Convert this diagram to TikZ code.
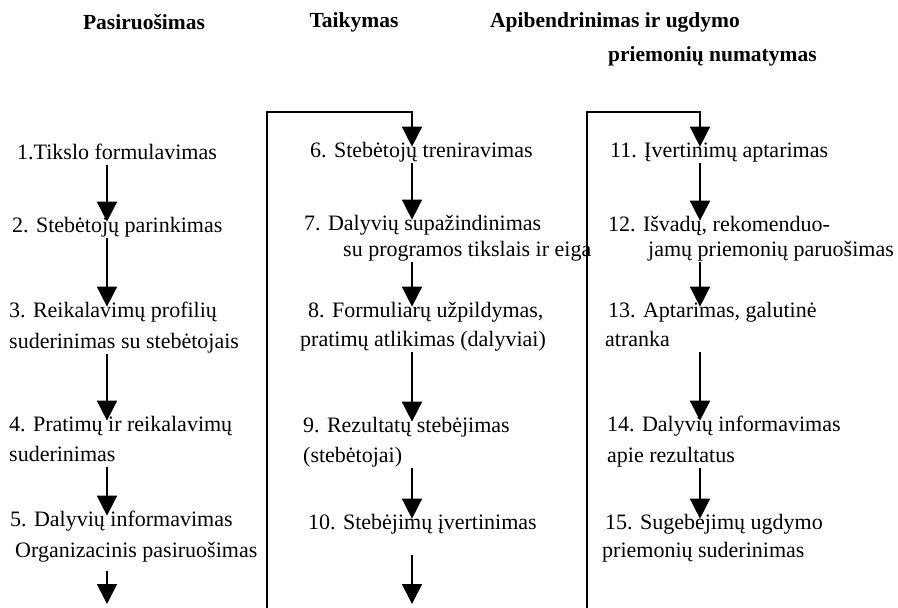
\documentclass[tikz,border=0pt]{standalone}
\usepackage{fontspec}
\setmainfont{Liberation Serif}
\usepackage{tikz}
\usetikzlibrary{arrows.meta}
\tikzstyle{entry} = [anchor=west, inner xsep=0pt, inner ysep=0.5pt, font=\fontsize{22}{26}\selectfont, text height=14.6pt, text depth=4.7pt]
\tikzstyle{heading} = [inner sep=0pt, font=\fontsize{21.5}{26}\selectfont\bfseries]
\tikzstyle{flow} = [-{Triangle[width=20pt, length=20pt]}, line width=1.6pt, shorten >=-4pt]

\begin{document}
\begin{tikzpicture}[x=1pt, y=-1pt]
    \useasboundingbox (0, 0) rectangle (898, 608);

    \node (head a) [heading] at (144, 22) {Pasiruošimas};
    \node (head b) [heading] at (354, 22) {Taikymas};
    \node (head c) [heading] at (615, 22) {Apibendrinimas ir ugdymo};
    \node (head cb) [heading, anchor=west] at (608, 56) {priemonių numatymas};

    \coordinate (col a) at (107, 0);
    \coordinate (col b) at (412, 0);
    \coordinate (col c) at (700, 0);

    % Pasiruosimas
    \node (item 1) [entry] at (17, 155) {1.Tikslo formulavimas};
    \node (item 2) [entry] at (12, 228) {2. Stebėtojų parinkimas};
    \node (item 3) [entry] at (9, 313) {3. Reikalavimų profilių};
    \node (item 3b) [entry] at (9, 344) {suderinimas su stebėtojais};
    \node (item 4) [entry] at (9, 427) {4. Pratimų ir reikalavimų};
    \node (item 4b) [entry] at (9, 457) {suderinimas};
    \node (item 5) [entry] at (10, 522) {5. Dalyvių informavimas};
    \node (item 5b) [entry] at (15, 553) {Organizacinis pasiruošimas};

    % Taikymas
    \node (item 6) [entry] at (310, 153) {6. Stebėtojų treniravimas};
    \node (item 7) [entry] at (304, 226) {7. Dalyvių supažindinimas};
    \node (item 7b) [entry] at (343, 252) {su programos tikslais ir eiga};
    \node (item 8) [entry] at (308, 313) {8. Formuliarų užpildymas,};
    \node (item 8b) [entry] at (300, 342) {pratimų atlikimas (dalyviai)};
    \node (item 9) [entry] at (303, 428) {9. Rezultatų stebėjimas};
    \node (item 9b) [entry] at (303, 458) {(stebėtojai)};
    \node (item 10) [entry] at (308, 525) {10. Stebėjimų įvertinimas};

    % Apibendrinimas
    \node (item 11) [entry] at (610, 153) {11. Įvertinimų aptarimas};
    \node (item 12) [entry] at (608, 227) {12. Išvadų, rekomenduo-};
    \node (item 12b) [entry] at (648, 252) {jamų priemonių paruošimas};
    \node (item 13) [entry] at (608, 313) {13. Aptarimas, galutinė};
    \node (item 13b) [entry] at (605, 342) {atranka};
    \node (item 14) [entry] at (607, 427) {14. Dalyvių informavimas};
    \node (item 14b) [entry] at (607, 458) {apie rezultatus};
    \node (item 15) [entry] at (605, 525) {15. Sugebėjimų ugdymo};
    \node (item 15b) [entry] at (602, 553) {priemonių suderinimas};

    \foreach \i/\j in {1/2, 2/3, 3b/4, 4b/5} {
        \draw [flow] (item \i.south -| col a) -- (item \j.north -| col a);
    }

    \foreach \i/\j in {6/7, 7b/8, 8b/9, 9b/10} {
        \draw [flow] (item \i.south -| col b) -- (item \j.north -| col b);
    }

    \foreach \i/\j in {11/12, 12b/13, 13b/14, 14b/15} {
        \draw [flow] (item \i.south -| col c) -- (item \j.north -| col c);
    }

    \coordinate (end a) at (107, 604);
    \coordinate (end b) at (412, 604);
    \draw [flow, shorten <=8pt, shorten >=0pt] (item 5b.south -| col a) -- (end a);
    \draw [flow, shorten <=20pt, shorten >=0pt] (item 10.south -| col b) -- (end b);

    % back to the top of the next column
    \coordinate (foot a) at (267, 612);
    \coordinate (top a) at (412, 112);
    \coordinate (foot b) at (587, 612);
    \coordinate (top b) at (700, 112);
    \draw [flow] (foot a) |- (top a) -- (item 6.north -| col b);
    \draw [flow] (foot b) |- (top b) -- (item 11.north -| col c);
\end{tikzpicture}
\end{document}
